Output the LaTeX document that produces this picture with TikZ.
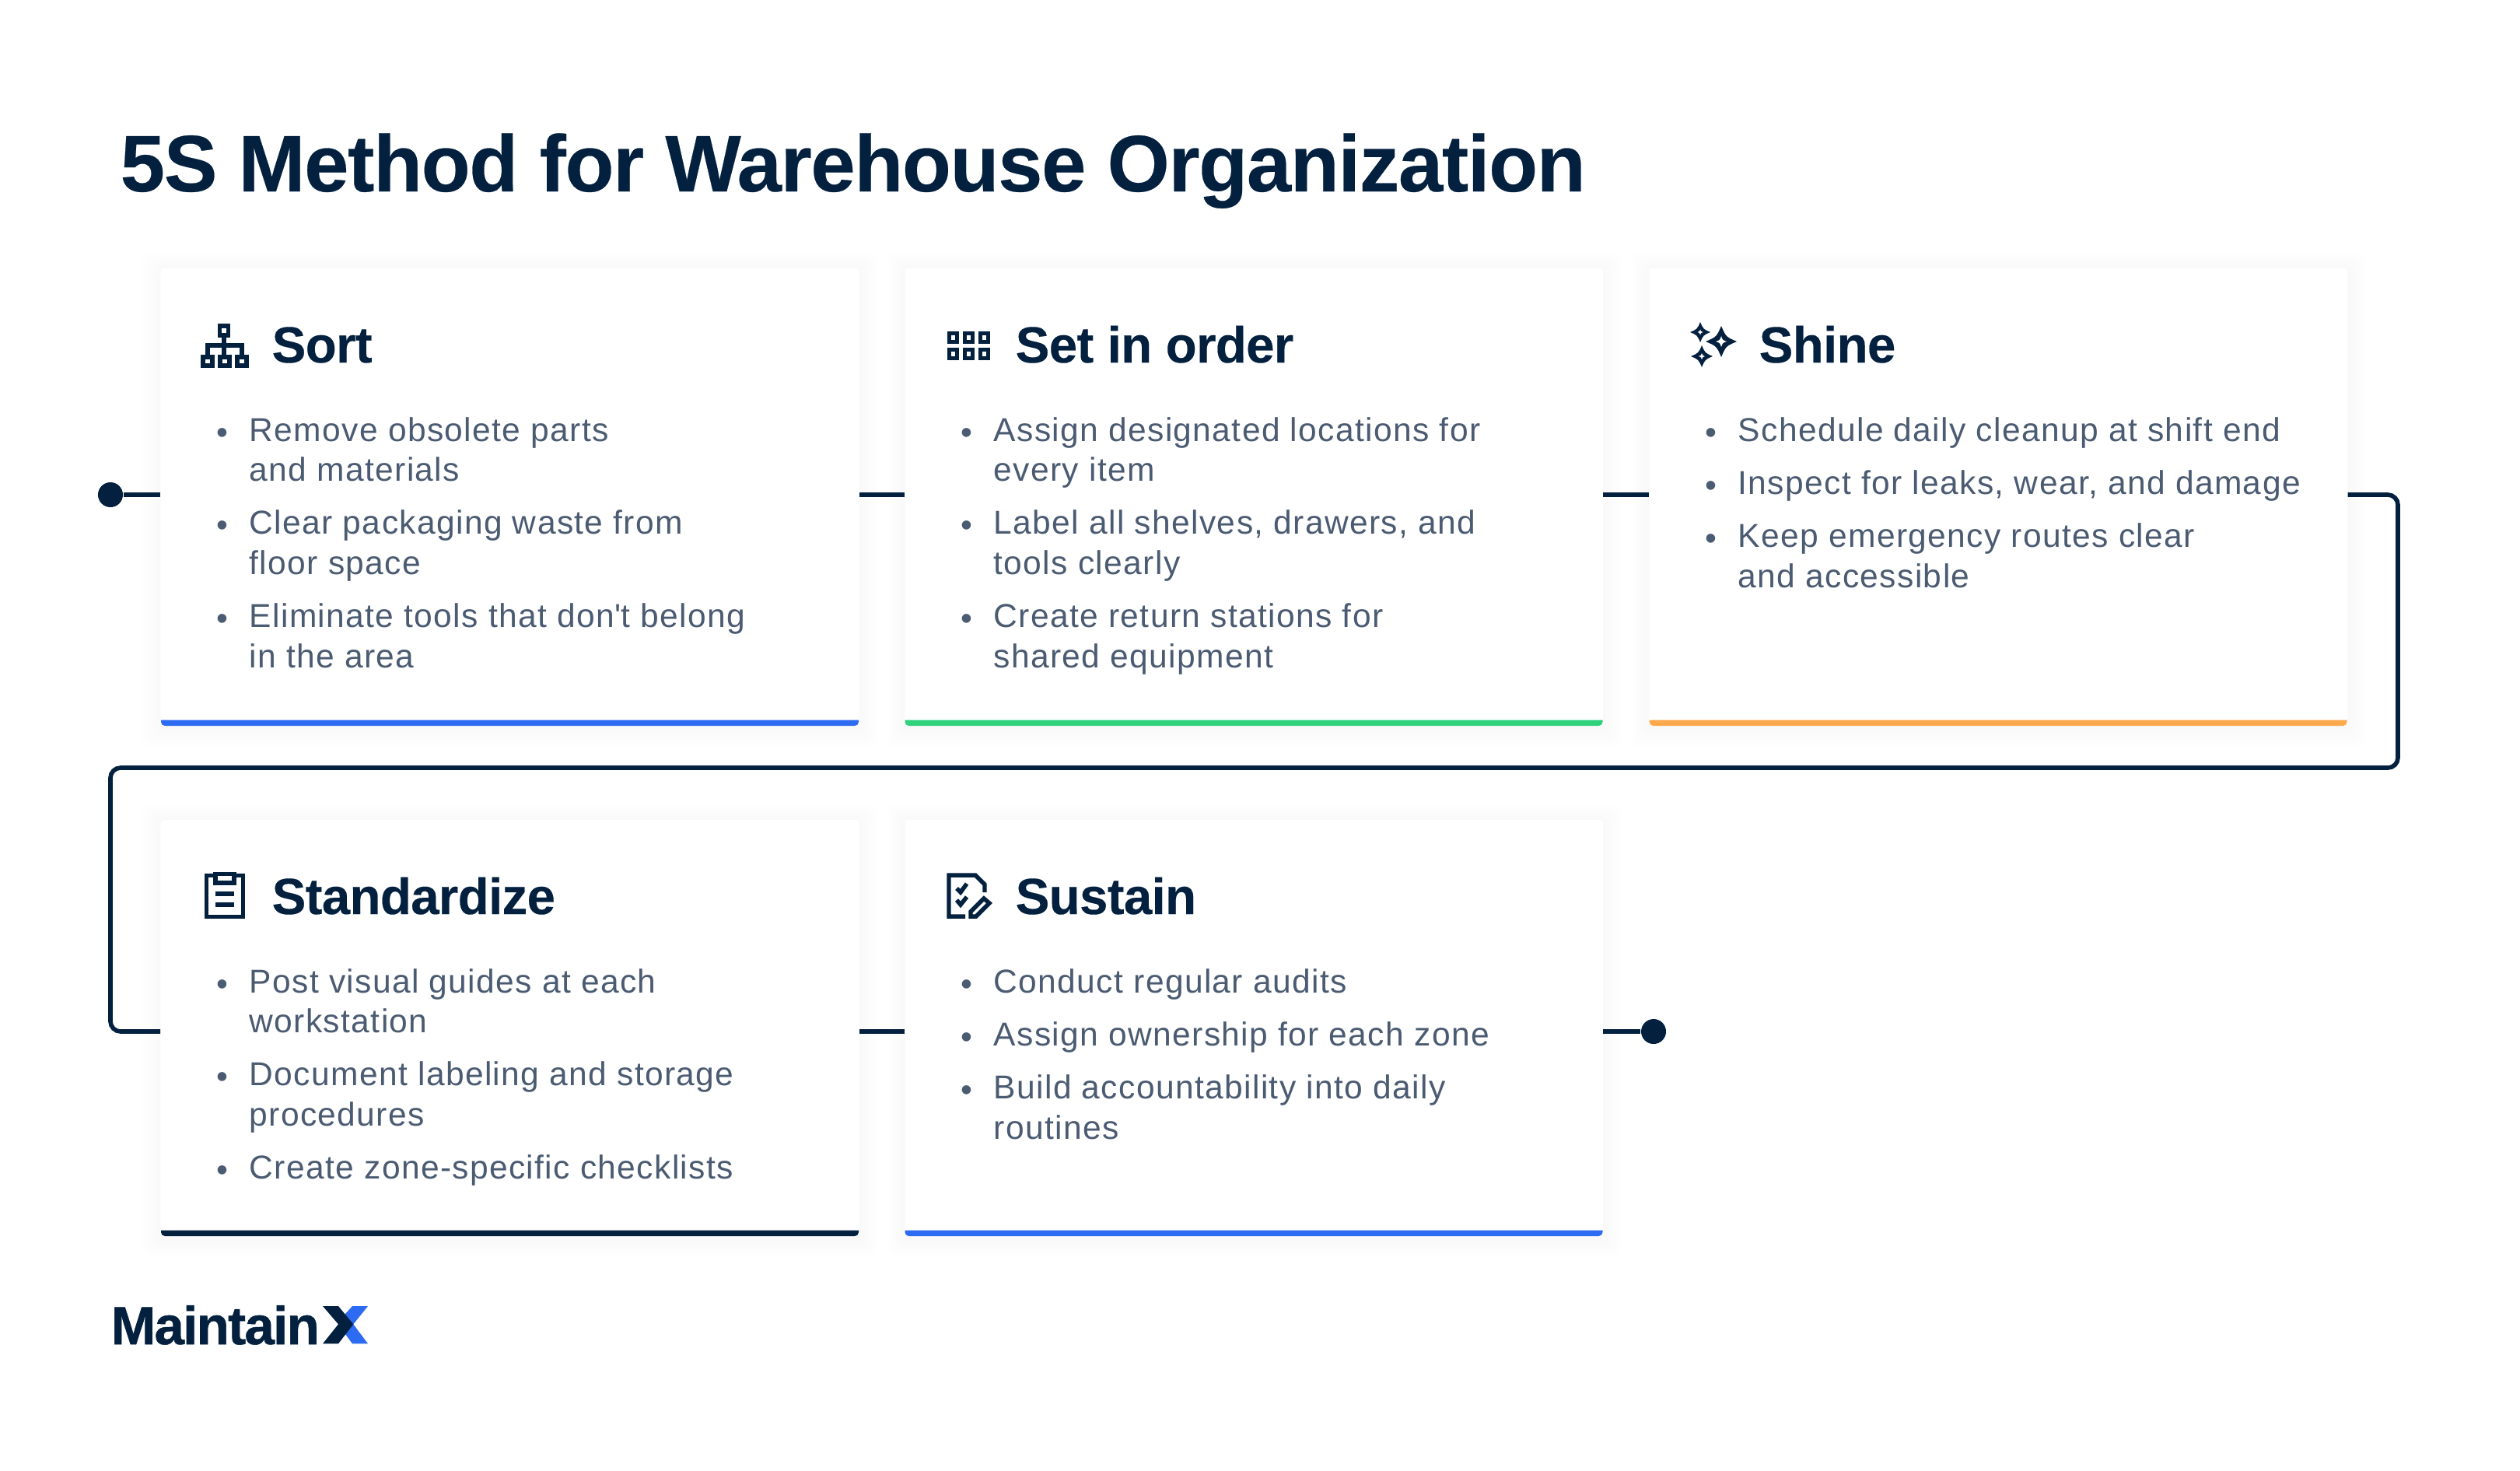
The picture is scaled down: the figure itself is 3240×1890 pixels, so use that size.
\documentclass[tikz,border=0pt]{standalone}
\usepackage{fontspec}
\setmainfont{Liberation Sans}
\newcommand{\titlefont}{\fontsize{29.3pt}{35pt}\bfseries\addfontfeature{LetterSpace=-1.3,FakeBold=0.25}\selectfont}
\newcommand{\headfont}{\fontsize{18.6pt}{22pt}\bfseries\addfontfeature{LetterSpace=-1,FakeBold=0.25}\selectfont}
\newcommand{\bodyfont}{\fontsize{12.1pt}{14.65pt}\addfontfeature{LetterSpace=3.2}\selectfont}
\newcommand{\logofont}{\fontsize{19.6pt}{22pt}\bfseries\addfontfeature{LetterSpace=-2.4,FakeBold=0.8}\selectfont}
\definecolor{navy}{HTML}{03203F}
\definecolor{slate}{HTML}{4B5B72}
\definecolor{barblue}{HTML}{2C6BF2}
\definecolor{bargreen}{HTML}{2FD27B}
\definecolor{barorange}{HTML}{FFA94D}
\newcommand{\cardpoint}[1]{\par\noindent\llap{\textcolor{slate}{\raisebox{-0.03cm}{\textbullet}}\hspace{0.27cm}}#1}
\newcommand{\cardlist}[1]{\begin{minipage}[t]{7.5cm}\parskip=4.8pt\bodyfont #1\end{minipage}}
\tikzset{
  card/.style={fill=white, minimum width=8.97cm, inner sep=0pt, rounded corners=0.04cm},
  cardhead/.style={anchor=base west, inner sep=0pt, text=navy, font=\headfont},
  cardtext/.style={anchor=base west, inner sep=0pt, text=slate},
  flowline/.style={draw=navy, line width=1.6pt},
  flowdot/.style={circle, fill=navy, minimum size=0.32cm, inner sep=0pt},
  iconline/.style={draw=navy, line width=1.55pt}
}
\begin{document}
\begin{tikzpicture}[x=0.01cm, y=-0.01cm]
   \path[use as bounding box, fill=white] (0,0) rectangle (3240,1890);

   \node[anchor=base west, inner sep=0pt, text=navy, font=\titlefont] (title) at (154,246) {5S Method for Warehouse Organization};

   % cards, each with a faint shadow and a coloured foot
   \foreach \cardname/\cx/\cy/\halfh/\footcolor in {sort/655.5/639/294/barblue, setorder/1612/639/294/bargreen, shine/2569/639/294/barorange, standardize/655.5/1321.5/267.5/navy, sustain/1612/1321.5/267.5/barblue} {
     \foreach \grow in {4,8,...,24}
       \fill[black, opacity=0.004, rounded corners=0.1cm] (\cx-448.5-\grow,\cy-\halfh-\grow+3) rectangle (\cx+448.5+\grow,\cy+\halfh+\grow+3);
     \node[card, minimum height=2*\halfh*0.01cm] (\cardname) at (\cx,\cy) {};
     \fill[\footcolor] (\cx-448.5,\cy+\halfh-7.5) -- (\cx+448.5,\cy+\halfh-7.5) [rounded corners=0.05cm] -- (\cx+448.5,\cy+\halfh) -- (\cx-448.5,\cy+\halfh) [sharp corners] -- (\cx-448.5,\cy+\halfh-7.5) -- cycle;
   }

   % flow line
   \node[flowdot] (startdot) at (142,636) {};
   \node[flowdot] (enddot) at (2126,1326) {};
   \coordinate (turnA) at (3083,636);
   \coordinate (turnB) at (3083,987);
   \coordinate (turnC) at (142,987);
   \coordinate (turnD) at (142,1326);
   \draw[flowline] (startdot) -- (startdot -| sort.west);
   \draw[flowline] (sort.east |- startdot) -- (setorder.west |- startdot);
   \draw[flowline] (setorder.east |- startdot) -- (shine.west |- startdot);
   \draw[flowline, rounded corners=0.13cm] (shine.east |- startdot) -- (turnA) -- (turnB) -- (turnC) -- (turnD) -- (standardize.west |- enddot);
   \draw[flowline] (standardize.east |- enddot) -- (sustain.west |- enddot);
   \draw[flowline] (sustain.east |- enddot) -- (enddot);

   % headings
   \node[cardhead] (sorthead) at (349,466) {Sort};
   \node[cardhead] (setorderhead) at (1305,466) {Set in order};
   \node[cardhead] (shinehead) at (2261,466) {Shine};
   \node[cardhead] (standardizehead) at (349,1175) {Standardize};
   \node[cardhead] (sustainhead) at (1305,1175) {Sustain};

   % bullet lists
   \node[cardtext] (sortlist) at (320,567) {\cardlist{
     \cardpoint{Remove obsolete parts\\and materials}
     \cardpoint{Clear packaging waste from\\floor space}
     \cardpoint{Eliminate tools that don\textquotesingle t belong\\in the area}}};
   \node[cardtext] (setorderlist) at (1277,567) {\cardlist{
     \cardpoint{Assign designated locations for\\every item}
     \cardpoint{Label all shelves, drawers, and\\tools clearly}
     \cardpoint{Create return stations for\\shared equipment}}};
   \node[cardtext] (shinelist) at (2234,567) {\cardlist{
     \cardpoint{Schedule daily cleanup at shift end}
     \cardpoint{Inspect for leaks, wear, and damage}
     \cardpoint{Keep emergency routes clear\\and accessible}}};
   \node[cardtext] (standardizelist) at (320,1276) {\cardlist{
     \cardpoint{Post visual guides at each\\workstation}
     \cardpoint{Document labeling and storage\\procedures}
     \cardpoint{Create zone-specific checklists}}};
   \node[cardtext] (sustainlist) at (1277,1276) {\cardlist{
     \cardpoint{Conduct regular audits}
     \cardpoint{Assign ownership for each zone}
     \cardpoint{Build accountability into daily\\routines}}};

   % sort icon
   \draw[iconline] (282.5,419) rectangle (293.5,431);
   \draw[iconline] (261,459) rectangle (273,470);
   \draw[iconline] (283,459) rectangle (295,470);
   \draw[iconline] (305,459) rectangle (317,470);
   \draw[iconline] (288,431) -- (288,459);
   \draw[iconline] (267,459) -- (267,444) -- (311,444) -- (311,459);

   % set in order icon
   \foreach \gx in {1225.5,1245.5,1265.5}
     \foreach \gy in {434,455}
       \draw[iconline] (\gx-5,\gy-5.5) rectangle (\gx+5,\gy+5.5);

   % shine icon
   \foreach \sx/\sy/\sr/\sh in {2186/427/13/3.5, 2213/439/20/7, 2188/458/14/4} {
     \fill[navy] (\sx,\sy-\sr) .. controls (\sx+.3*\sr,\sy-.3*\sr) .. (\sx+\sr,\sy)
       .. controls (\sx+.3*\sr,\sy+.3*\sr) .. (\sx,\sy+\sr)
       .. controls (\sx-.3*\sr,\sy+.3*\sr) .. (\sx-\sr,\sy)
       .. controls (\sx-.3*\sr,\sy-.3*\sr) .. (\sx,\sy-\sr) -- cycle;
     \fill[white] (\sx,\sy-\sh) .. controls (\sx+.25*\sh,\sy-.25*\sh) .. (\sx+\sh,\sy)
       .. controls (\sx+.25*\sh,\sy+.25*\sh) .. (\sx,\sy+\sh)
       .. controls (\sx-.25*\sh,\sy+.25*\sh) .. (\sx-\sh,\sy)
       .. controls (\sx-.25*\sh,\sy-.25*\sh) .. (\sx,\sy-\sh) -- cycle;
   }

   % standardize icon
   \draw[iconline] (275,1125.5) -- (265.5,1125.5) -- (265.5,1178.5) -- (312.5,1178.5) -- (312.5,1125.5) -- (303,1125.5);
   \draw[iconline] (277,1123.5) rectangle (301,1135);
   \draw[iconline] (277,1149) -- (301,1149);
   \draw[iconline] (277,1163) -- (301,1163);

   % sustain icon
   \draw[iconline] (1241,1178) -- (1220,1178) -- (1220,1125) -- (1254,1125) -- (1266,1137) -- (1266,1147);
   \draw[iconline] (1230,1142) -- (1235,1147) -- (1243,1136);
   \draw[iconline] (1230,1157) -- (1235,1163) -- (1243,1153);
   \draw[iconline] (1248,1178) -- (1248,1172) -- (1265,1155) -- (1272,1161) -- (1255,1178) -- cycle;

   % logo
   \node[anchor=base west, inner sep=0pt, text=navy, font=\logofont] (logo) at (142,1728) {Maintain};
   \fill[barblue] (453,1679) -- (473,1679) -- (454.3,1702.3) -- (473,1727.3) -- (453,1727.3) -- (444,1715) -- (444,1689) -- cycle;
   \fill[navy] (415,1679) -- (435,1679) -- (454.3,1702.3) -- (435,1727.3) -- (415,1727.3) -- (435,1702.3) -- cycle;
\end{tikzpicture}
\end{document}
